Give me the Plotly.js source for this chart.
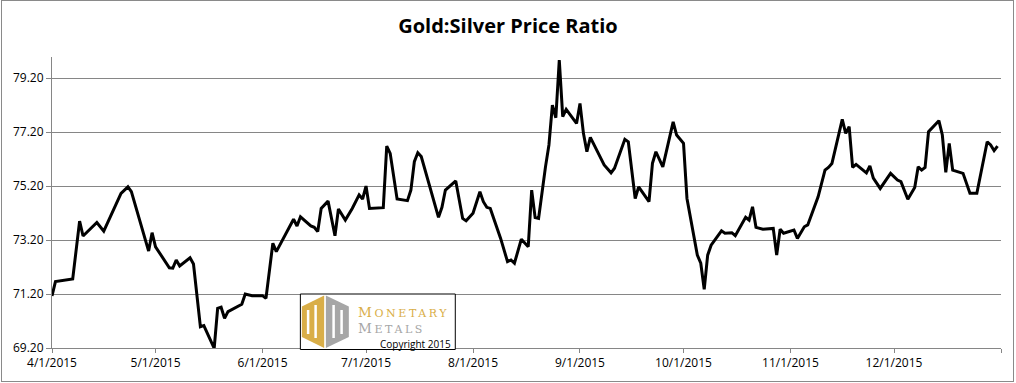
<!DOCTYPE html>
<html>
<head>
<meta charset="utf-8">
<script src="https://cdn.plot.ly/plotly-3.0.1.min.js"></script>
<style>
  html, body { margin: 0; padding: 0; background: #fff; }
  #wrap { position: relative; width: 1016px; height: 383px; }
  #chart { position: absolute; left: 0; top: 0; width: 1016px; height: 383px; }
  #frame { position: absolute; left: 1px; top: 0; width: 1013px; height: 382px;
           border: 1px solid #8a8a8a; box-sizing: border-box; pointer-events: none; }
</style>
</head>
<body>
<div id="wrap"><div id="chart"></div><div id="frame"></div></div>
<script>
// ---- data ----
const dates = [
  "2015-04-01","2015-04-02","2015-04-07","2015-04-09","2015-04-10","2015-04-14","2015-04-16","2015-04-18",
  "2015-04-21","2015-04-23","2015-04-24","2015-04-29","2015-04-30","2015-05-01","2015-05-05","2015-05-06",
  "2015-05-07","2015-05-08","2015-05-11","2015-05-12","2015-05-14","2015-05-15","2015-05-18","2015-05-19",
  "2015-05-20","2015-05-21","2015-05-22","2015-05-26","2015-05-27","2015-05-29","2015-06-01","2015-06-02",
  "2015-06-04","2015-06-05","2015-06-08","2015-06-10","2015-06-11","2015-06-12","2015-06-15","2015-06-16",
  "2015-06-17","2015-06-18","2015-06-20","2015-06-22","2015-06-23","2015-06-25","2015-06-27","2015-06-29",
  "2015-06-30","2015-07-01","2015-07-02","2015-07-06","2015-07-07","2015-07-08","2015-07-10","2015-07-13",
  "2015-07-14","2015-07-15","2015-07-16","2015-07-17","2015-07-22","2015-07-23","2015-07-24","2015-07-27",
  "2015-07-29","2015-07-30","2015-08-01","2015-08-03","2015-08-04","2015-08-05","2015-08-06","2015-08-09",
  "2015-08-11","2015-08-12","2015-08-13","2015-08-15","2015-08-17","2015-08-18","2015-08-19","2015-08-20",
  "2015-08-22","2015-08-23","2015-08-24","2015-08-25","2015-08-26","2015-08-27","2015-08-28","2015-08-31",
  "2015-09-01","2015-09-02","2015-09-03","2015-09-04","2015-09-08","2015-09-10","2015-09-11","2015-09-14",
  "2015-09-15","2015-09-17","2015-09-18","2015-09-21","2015-09-22","2015-09-23","2015-09-25","2015-09-28",
  "2015-09-29","2015-10-01","2015-10-02","2015-10-05","2015-10-06","2015-10-07","2015-10-08","2015-10-09",
  "2015-10-12","2015-10-13","2015-10-15","2015-10-16","2015-10-19","2015-10-20","2015-10-21","2015-10-22",
  "2015-10-24","2015-10-27","2015-10-28","2015-10-29","2015-10-30","2015-11-02","2015-11-03","2015-11-05",
  "2015-11-06","2015-11-09","2015-11-11","2015-11-12","2015-11-13","2015-11-16","2015-11-17","2015-11-18",
  "2015-11-19","2015-11-20","2015-11-23","2015-11-24","2015-11-25","2015-11-27","2015-11-30","2015-12-02",
  "2015-12-03","2015-12-05","2015-12-07","2015-12-08","2015-12-09","2015-12-10","2015-12-11","2015-12-14",
  "2015-12-15","2015-12-16","2015-12-17","2015-12-18","2015-12-21","2015-12-23","2015-12-25","2015-12-28",
  "2015-12-29","2015-12-30","2015-12-31"
];
const ratio = [
  71.13,71.66,71.76,73.90,73.35,73.85,73.53,74.10,
  74.93,75.17,74.99,72.79,73.47,72.95,72.17,72.16,
  72.46,72.24,72.54,72.31,69.99,70.03,69.19,70.67,
  70.71,70.30,70.55,70.82,71.20,71.14,71.14,71.04,
  73.08,72.77,73.51,73.97,73.72,74.06,73.72,73.67,
  73.51,74.37,74.64,73.36,74.35,73.94,74.37,74.87,
  74.72,75.20,74.37,74.40,76.68,76.41,74.72,74.66,
  75.05,76.10,76.43,76.29,74.04,74.41,75.05,75.39,
  74.00,73.91,74.19,74.99,74.62,74.41,74.37,73.26,
  72.40,72.46,72.34,73.23,72.95,75.05,74.03,74.00,
  75.91,76.72,78.20,77.73,79.87,77.77,78.04,77.52,
  78.26,77.15,76.47,77.00,75.98,75.69,75.86,76.93,
  76.84,74.74,75.17,74.62,76.04,76.47,75.91,77.58,
  77.09,76.78,74.74,72.64,72.34,71.37,72.64,73.01,
  73.54,73.45,73.47,73.36,74.04,73.94,74.43,73.67,
  73.60,73.63,72.64,73.60,73.45,73.57,73.26,73.69,
  73.76,74.80,75.79,75.89,76.03,77.67,77.15,77.40,
  75.89,76.00,75.69,75.95,75.49,75.11,75.67,75.42,
  75.36,74.71,75.15,75.91,75.79,75.89,77.21,77.62,
  77.09,75.71,76.78,75.79,75.67,74.93,74.93,76.84,
  76.72,76.51,76.68
];
const tickDates  = ["2015-04-01","2015-05-01","2015-06-01","2015-07-01","2015-08-01","2015-09-01","2015-10-01","2015-11-01","2015-12-01","2016-01-01"];
const tickLabels = ["4/1/2015","5/1/2015","6/1/2015","7/1/2015","8/1/2015","9/1/2015","10/1/2015","11/1/2015","12/1/2015",""];
const yTicks     = [69.2, 71.2, 73.2, 75.2, 77.2, 79.2];
const chartTitle = "Gold:Silver Price Ratio";
const logoWords  = ["Monetary", "Metals"];
const logoNote   = "Copyright 2015";

// ---- layout helpers (pixel -> paper) ----
const M = {l: 52, r: 14.5, t: 57, b: 35};
const W = 1016, H = 383;
const PW = W - M.l - M.r, PH = H - M.t - M.b;
const px = x => (x - M.l) / PW;
const py = y => (H - M.b - y) / PH;
const poly = pts => pts.map((p, i) => (i ? 'L' : 'M') + px(p[0]) + ',' + py(p[1])).join(' ') + ' Z';

const gold = '#d9ae48', grey = '#a6a6a6';
const shapes = [
  {type:'rect', xref:'paper', yref:'paper', x0:px(300.5), x1:px(455.5), y0:py(349.5), y1:py(294),
   line:{color:'#000', width:1}, fillcolor:'#fff', layer:'above'},
  {type:'path', xref:'paper', yref:'paper', path: poly([[302,306.5],[324.3,295.5],[324.3,348],[302,337]]),
   fillcolor: gold, line:{width:0}, layer:'above'},
  {type:'path', xref:'paper', yref:'paper', path: poly([[326,295.5],[349,306.5],[349,337],[326,348]]),
   fillcolor: grey, line:{width:0}, layer:'above'},
  {type:'rect', xref:'paper', yref:'paper', x0:px(307), x1:px(309.5), y0:py(334), y1:py(310), fillcolor:'#fff', line:{width:0}, layer:'above'},
  {type:'rect', xref:'paper', yref:'paper', x0:px(314.5), x1:px(317), y0:py(338), y1:py(305), fillcolor:'#fff', line:{width:0}, layer:'above'},
  {type:'rect', xref:'paper', yref:'paper', x0:px(332.5), x1:px(335), y0:py(338), y1:py(305), fillcolor:'#fff', line:{width:0}, layer:'above'},
  {type:'rect', xref:'paper', yref:'paper', x0:px(340.5), x1:px(343), y0:py(334), y1:py(310), fillcolor:'#fff', line:{width:0}, layer:'above'}
];

const serif = '"DejaVu Serif", "Liberation Serif", serif';
const word = (w, c) => '<span style="color:' + c + ';font-size:13.5px;letter-spacing:2.6px">' + w[0] + '</span>' +
                       '<span style="color:' + c + ';font-size:11px;letter-spacing:2.6px">' + w.slice(1).toUpperCase() + '</span>';
const annotations = [
  {xref:'paper', yref:'paper', x:px(357.5), y:py(319.5), xanchor:'left', yanchor:'middle', showarrow:false,
   align:'left', borderpad:0,
   text: word(logoWords[0], gold) + '<br>' + word(logoWords[1], grey),
   font:{family:serif, size:12.5, color:gold}},
  {xref:'paper', yref:'paper', x:px(452), y:py(343.5), xanchor:'right', yanchor:'middle', showarrow:false,
   borderpad:0, text: logoNote, font:{family:'"Open Sans", sans-serif', size:10, color:'#000'}}
];

const trace = {
  x: dates, y: ratio, type: 'scatter', mode: 'lines',
  line: {color: '#000', width: 3, shape: 'linear'},
  hoverinfo: 'x+y'
};

const axisFont = {family: '"Open Sans", sans-serif', size: 12, color: '#000'};
const layout = {
  width: W, height: H,
  margin: M,
  paper_bgcolor: '#fff', plot_bgcolor: '#fff',
  showlegend: false,
  title: {text: chartTitle, x: 0.5, xref: 'container', xanchor: 'center',
          y: (H - 26) / H, yref: 'container', yanchor: 'middle',
          font: {family: '"Open Sans", sans-serif', size: 20, color: '#000', weight: 'bold'}},
  xaxis: {
    type: 'date', range: ['2015-04-01', '2016-01-01'],
    tickmode: 'array', tickvals: tickDates, ticktext: tickLabels,
    ticks: 'outside', ticklen: 4, tickcolor: '#868686', tickwidth: 1,
    showline: true, linecolor: '#868686', linewidth: 1,
    showgrid: false, zeroline: false, tickfont: axisFont
  },
  yaxis: {
    range: [69.2, 79.98],
    tickmode: 'array', tickvals: yTicks, tickformat: '.2f',
    ticks: 'outside', ticklen: 5, tickcolor: '#868686', tickwidth: 1,
    showline: true, linecolor: '#868686', linewidth: 1,
    showgrid: true, gridcolor: '#868686', gridwidth: 1,
    zeroline: false, tickfont: axisFont
  },
  shapes: shapes,
  annotations: annotations
};

Plotly.newPlot('chart', [trace], layout, {staticPlot: true, displayModeBar: false});
</script>
</body>
</html>
